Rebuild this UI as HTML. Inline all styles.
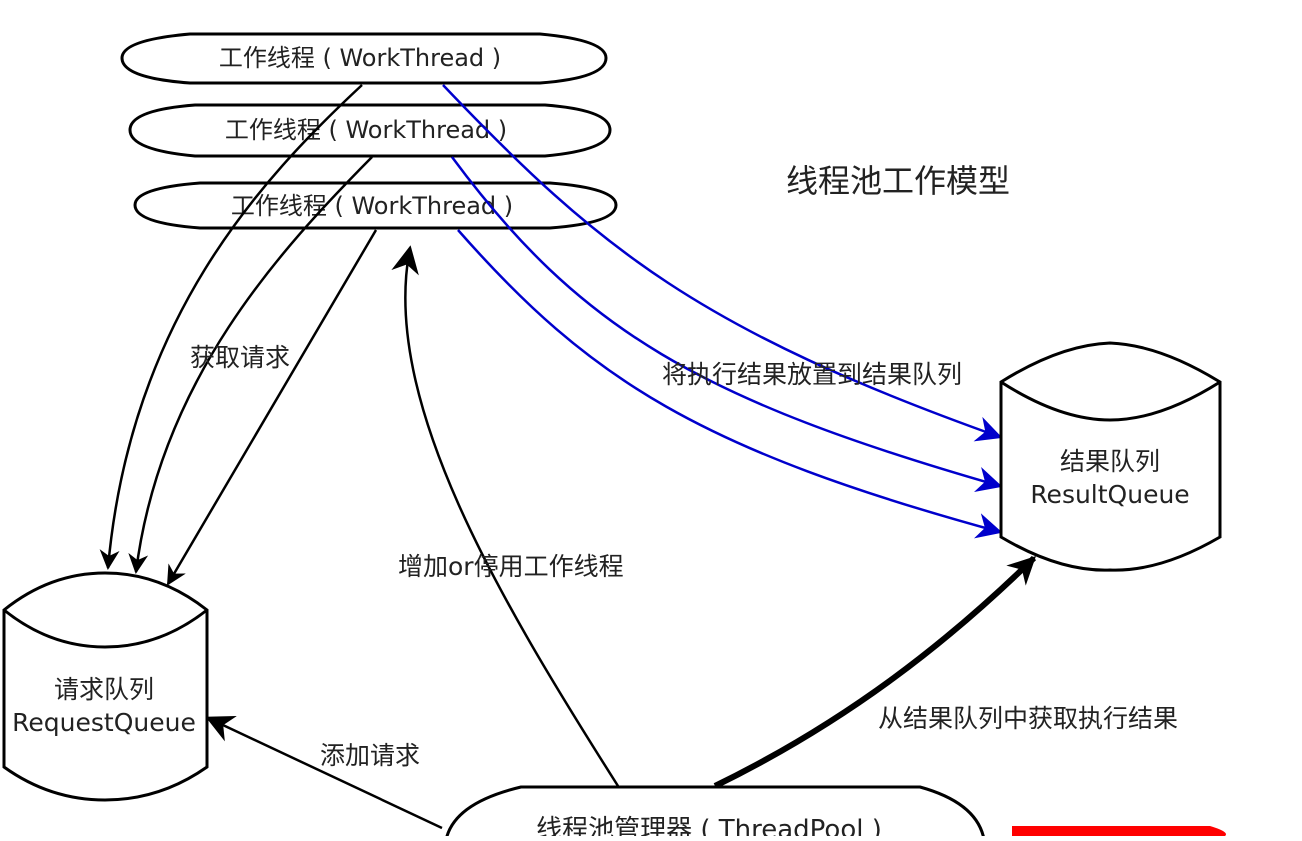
<!DOCTYPE html>
<html><head><meta charset="utf-8"><style>
body{margin:0;background:#fff}
svg text{font-family:"DejaVu Sans","Noto Sans CJK SC",sans-serif;fill:#222}
</style></head><body>
<svg width="1302" height="836" viewBox="0 0 1302 836" xmlns="http://www.w3.org/2000/svg">
<defs>
<marker id="ab" viewBox="0 0 10 10" refX="9" refY="5" markerWidth="20" markerHeight="20" orient="auto" markerUnits="userSpaceOnUse"><path d="M0,0 L10,5 L0,10 L3,5z" fill="#000"/></marker>
<marker id="ab2" viewBox="0 0 10 10" refX="9" refY="5" markerWidth="28" markerHeight="28" orient="auto" markerUnits="userSpaceOnUse"><path d="M0,0 L10,5 L0,10 L3,5z" fill="#000"/></marker>
<marker id="abl" viewBox="0 0 10 10" refX="9" refY="5" markerWidth="26" markerHeight="26" orient="auto" markerUnits="userSpaceOnUse"><path d="M0,0 L10,5 L0,10 L3,5z" fill="#00c"/></marker>
</defs>
<g fill="#fff" stroke="#000" stroke-width="3">
<path d="M190,34 L540,34 Q606,40 606,58 Q606,78 540,83 L190,83 Q122,78 122,58 Q122,40 190,34Z"/>
<path d="M195,105 L545,105 Q610,110 610,130 Q610,150 545,156 L195,156 Q130,150 130,130 Q130,110 195,105Z"/>
<path d="M200,183 L550,183 Q616,188 616,205 Q616,223 550,228 L200,228 Q135,223 135,205 Q135,188 200,183Z"/>
</g>
<g font-size="24" text-anchor="middle">
<text x="360" y="66">工作线程 ( WorkThread )</text>
<text x="366" y="138">工作线程 ( WorkThread )</text>
<text x="372" y="214">工作线程 ( WorkThread )</text>
</g>
<g fill="none" stroke="#000" stroke-width="2.5">
<path d="M362,85 C260,180 130,320 108,568" marker-end="url(#ab)"/>
<path d="M372,157 C280,250 160,380 136,572" marker-end="url(#ab)"/>
<path d="M376,230 L168,584" marker-end="url(#ab)"/>
<path d="M618,786 C500,600 380,400 410,248" marker-end="url(#ab2)"/>
<path d="M442,828 L208,718" marker-end="url(#ab2)"/>
</g>
<path d="M715,786 C850,720 950,640 1034,558" fill="none" stroke="#000" stroke-width="6" marker-end="url(#ab2)"/>
<g fill="none" stroke="#00c" stroke-width="2.5">
<path d="M443,85 C600,250 700,330 1000,437" marker-end="url(#abl)"/>
<path d="M452,157 C580,330 700,400 1000,486" marker-end="url(#abl)"/>
<path d="M458,230 C590,380 700,450 1000,532" marker-end="url(#abl)"/>
</g>
<g fill="#fff" stroke="#000" stroke-width="3">
<path d="M1001,382 Q1060,345 1110,343 Q1160,345 1220,382 L1220,537 Q1160,572 1110,570 Q1060,572 1001,537 Z"/>
<path d="M1001,382 Q1060,420 1110,420 Q1160,420 1220,382" fill="none"/>
<path d="M4,610 Q50,573 105,573 Q160,573 207,610 L207,767 Q160,800 105,800 Q50,800 4,767 Z"/>
<path d="M4,610 Q50,647 105,647 Q160,647 207,610" fill="none"/>
<path d="M521,787 L920,787 Q985,805 985,850 L445,850 Q445,805 521,787Z"/>
</g>
<g font-size="25" text-anchor="middle">
<text x="1110" y="470">结果队列</text>
<text x="1110" y="503">ResultQueue</text>
<text x="104" y="698">请求队列</text>
<text x="104" y="731">RequestQueue</text>
<text x="709" y="838" font-size="26">线程池管理器 ( ThreadPool )</text>
</g>
<g font-size="25">
<text x="786" y="192" font-size="32">线程池工作模型</text>
<text x="190" y="366">获取请求</text>
<text x="662" y="383">将执行结果放置到结果队列</text>
<text x="398" y="575">增加or停用工作线程</text>
<text x="320" y="764">添加请求</text>
<text x="878" y="727">从结果队列中获取执行结果</text>
</g>
<path d="M1012,826 L1210,826 Q1230,832 1225,836 L1012,836Z" fill="#f00"/>
</svg>
</body></html>
